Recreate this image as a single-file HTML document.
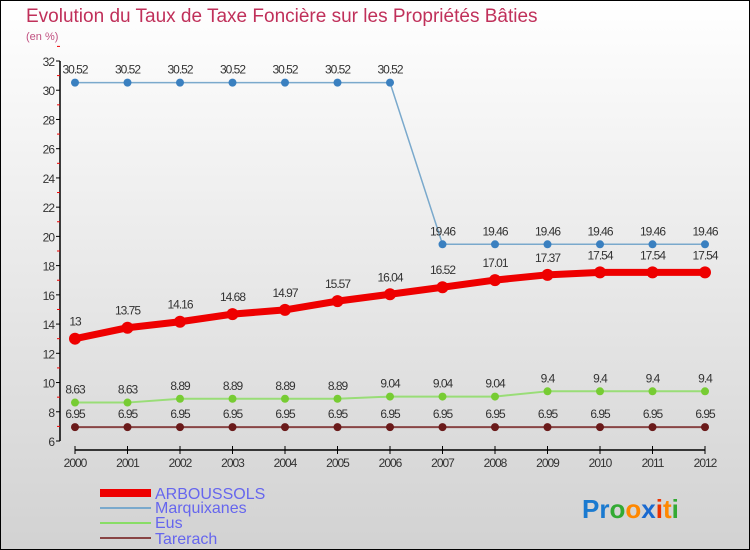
<!DOCTYPE html>
<html><head><meta charset="utf-8"><style>
body{margin:0}
#c{width:750px;height:550px;position:relative;box-sizing:border-box;border:1px solid #000;background:linear-gradient(#fff,#d2d2d2);font-family:"Liberation Sans",sans-serif;overflow:hidden}
</style></head><body>
<div id="c">
<svg id="s" width="750" height="550" style="position:absolute;left:-1px;top:-1px">
<text x="26" y="22" font-size="19" fill="#c0305a">Evolution du Taux de Taxe Foncière sur les Propriétés Bâties</text>
<text x="26" y="40" font-size="11" fill="#c05080">(en %)</text>
<g id="ax"></g><g id="ser"></g>
<g>
<rect x="100" y="489" width="51" height="8" fill="#e00"/>
<text x="155" y="499" font-size="16" fill="#6666ee">ARBOUSSOLS</text>
<line x1="100" y1="508" x2="151" y2="508" stroke="#7aa9cc" stroke-width="2"/>
<text x="155" y="513" font-size="16" fill="#6666ee">Marquixanes</text>
<line x1="100" y1="523" x2="151" y2="523" stroke="#88dd66" stroke-width="2"/>
<text x="155" y="528" font-size="16" fill="#6666ee">Eus</text>
<line x1="100" y1="538" x2="151" y2="538" stroke="#884444" stroke-width="2"/>
<text x="155" y="544" font-size="16" fill="#6666ee">Tarerach</text>
</g>
<text x="582" y="518" font-size="26" font-weight="bold"><tspan fill="#1a7ad0">Pr</tspan><tspan fill="#33aa33">o</tspan><tspan fill="#ff8800">o</tspan><tspan fill="#1a6ad0">x</tspan><tspan fill="#ee3300">i</tspan><tspan fill="#ff8800">t</tspan><tspan fill="#33aa33">i</tspan></text>
</svg>
</div>
<script>
const years=["2000","2001","2002","2003","2004","2005","2006","2007","2008","2009","2010","2011","2012"];
const arboussols=[13,13.75,14.16,14.68,14.97,15.57,16.04,16.52,17.01,17.37,17.54,17.54,17.54];
const marquixanes=[30.52,30.52,30.52,30.52,30.52,30.52,30.52,19.46,19.46,19.46,19.46,19.46,19.46];
const eus=[8.63,8.63,8.89,8.89,8.89,8.89,9.04,9.04,9.04,9.4,9.4,9.4,9.4];
const tarerach=[6.95,6.95,6.95,6.95,6.95,6.95,6.95,6.95,6.95,6.95,6.95,6.95,6.95];
const yTicks=[6,8,10,12,14,16,18,20,22,24,26,28,30,32];
const NS="http://www.w3.org/2000/svg";
const X=i=>75+i*(630/(years.length-1));
const Y=v=>441-(v-6)*(380/26);
function mk(t,a,p){const e=document.createElementNS(NS,t);for(const k in a)e.setAttribute(k,a[k]);p.appendChild(e);return e;}
const ax=document.getElementById('ax'),ser=document.getElementById('ser');
let l=mk('line',{x1:60,y1:Y(32),x2:60,y2:Y(6),stroke:'#000','stroke-width':1.5},ax);

yTicks.forEach(v=>{mk('line',{x1:56,x2:60,y1:Y(v),y2:Y(v),stroke:'#000'},ax);
 mk('line',{x1:57,x2:60,y1:Y(v+1),y2:Y(v+1),stroke:'#e00'},ax);
 const t=mk('text',{x:54,y:Y(v)+5,'font-size':12,'text-anchor':'end',fill:'#333','letter-spacing':'-1'},ax);t.textContent=v;
 });
l=mk('line',{x1:75,y1:450,x2:705,y2:450,stroke:'#000','stroke-width':1.5},ax);

years.forEach((y,i)=>{mk('line',{x1:X(i),x2:X(i),y1:446,y2:454,stroke:'#000'},ax);
 const t=mk('text',{x:X(i),y:467,'font-size':12,'text-anchor':'middle',fill:'#333','letter-spacing':'-1'},ax);t.textContent=y;
 });
function series(name,d,col,w,r,dot,lab){
 const g=mk('g',{},ser);
 mk('polyline',{points:d.map((v,i)=>X(i)+','+Y(v)).join(' '),fill:'none',stroke:col,'stroke-width':w,'stroke-linejoin':'round'},g);
 d.forEach((v,i)=>{const c=mk('circle',{cx:X(i),cy:Y(v),r:r,fill:dot},g);
  
  const t=mk('text',{x:X(i),y:Y(v)-(lab||9),'font-size':12,'text-anchor':'middle',fill:'#333','letter-spacing':'-1'},g);t.textContent=v;
  });
}
series('tarerach',tarerach,'#884444',2,4,'#6a1a1a');
series('eus',eus,'#99dd77',2,4,'#77cc33');
series('marquixanes',marquixanes,'#7aa9cc',1.5,4,'#3a80c0');
series('arboussols',arboussols,'#ee0000',7,6,'#ee0000',13);
</script>
</body></html>
